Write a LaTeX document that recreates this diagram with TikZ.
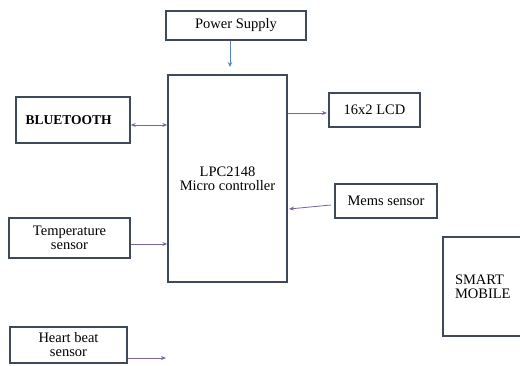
\documentclass[tikz,border=0pt]{standalone}
\usepackage{fontspec}
\setmainfont{Liberation Serif}
\usetikzlibrary{arrows.meta}
\definecolor{boxline}{HTML}{3E4A58}
\definecolor{purp}{HTML}{7A63A0}
\definecolor{bluearr}{HTML}{5A86C8}
\tikzset{
  blk/.style={draw=boxline, line width=1.4pt, inner sep=0pt, font=\fontsize{14.5}{14}\selectfont, align=center},
  conn/.style={draw=purp, line width=0.8pt, -{Stealth[length=5pt,width=4pt]}},
  bconn/.style={draw=purp, line width=0.8pt, {Stealth[length=5pt,width=4pt]}-{Stealth[length=5pt,width=4pt]}},
  pconn/.style={draw=bluearr, line width=1pt, -{Stealth[length=5pt,width=4.5pt]}}
}
\begin{document}
\begin{tikzpicture}[x=1pt,y=-1pt]
\useasboundingbox (0,0) rectangle (520,365);
\begin{scope}
\clip (0,0) rectangle (520,365);
\node[blk, minimum width=140pt, minimum height=29pt] (power) at (236,25.5) {Power Supply};
\node[blk, minimum width=119pt, minimum height=207pt] (mcu) at (227.5,178.5) {};
\node[font=\fontsize{14.5}{14}\selectfont, align=center] (mcutext) at (227.5,179) {LPC2148\\Micro controller};
\node[blk, minimum width=114pt, minimum height=46pt, text width=95pt, align=left, font=\fontsize{13.5}{14}\selectfont\bfseries] (bt) at (73,120) {BLUETOOTH};
\node[blk, minimum width=91pt, minimum height=34pt] (lcd) at (374.5,110) {16x2 LCD};
\node[blk, minimum width=102pt, minimum height=34pt] (mems) at (386,201) {Mems sensor};
\node[blk, minimum width=121pt, minimum height=40pt] (temp) at (69.5,238) {Temperature\\sensor};
\node[blk, minimum width=86pt, minimum height=99pt, text width=62pt, align=left] (mobile) at (486,286.5) {SMART\\MOBILE};
\node[blk, minimum width=117pt, minimum height=36pt] (heart) at (68.5,345) {Heart beat\\sensor};
\coordinate (pend) at (230,67);
\coordinate (hend) at (166,358);
\coordinate (lcdend) at (327,113);
\coordinate (memsstart) at (331,205);
\coordinate (memsend) at (289,209);
\draw[pconn] (power.south -| pend) -- (pend);
\draw[bconn] (bt.east |- 0,125) -- (mcu.west |- 0,125);
\draw[conn] (mcu.east |- lcdend) -- (lcdend);
\draw[conn] (memsstart) -- (memsend);
\draw[conn] (temp.east |- 0,244) -- (mcu.west |- 0,244);
\draw[conn] (heart.east |- hend) -- (hend);
\end{scope}
\end{tikzpicture}
\end{document}
